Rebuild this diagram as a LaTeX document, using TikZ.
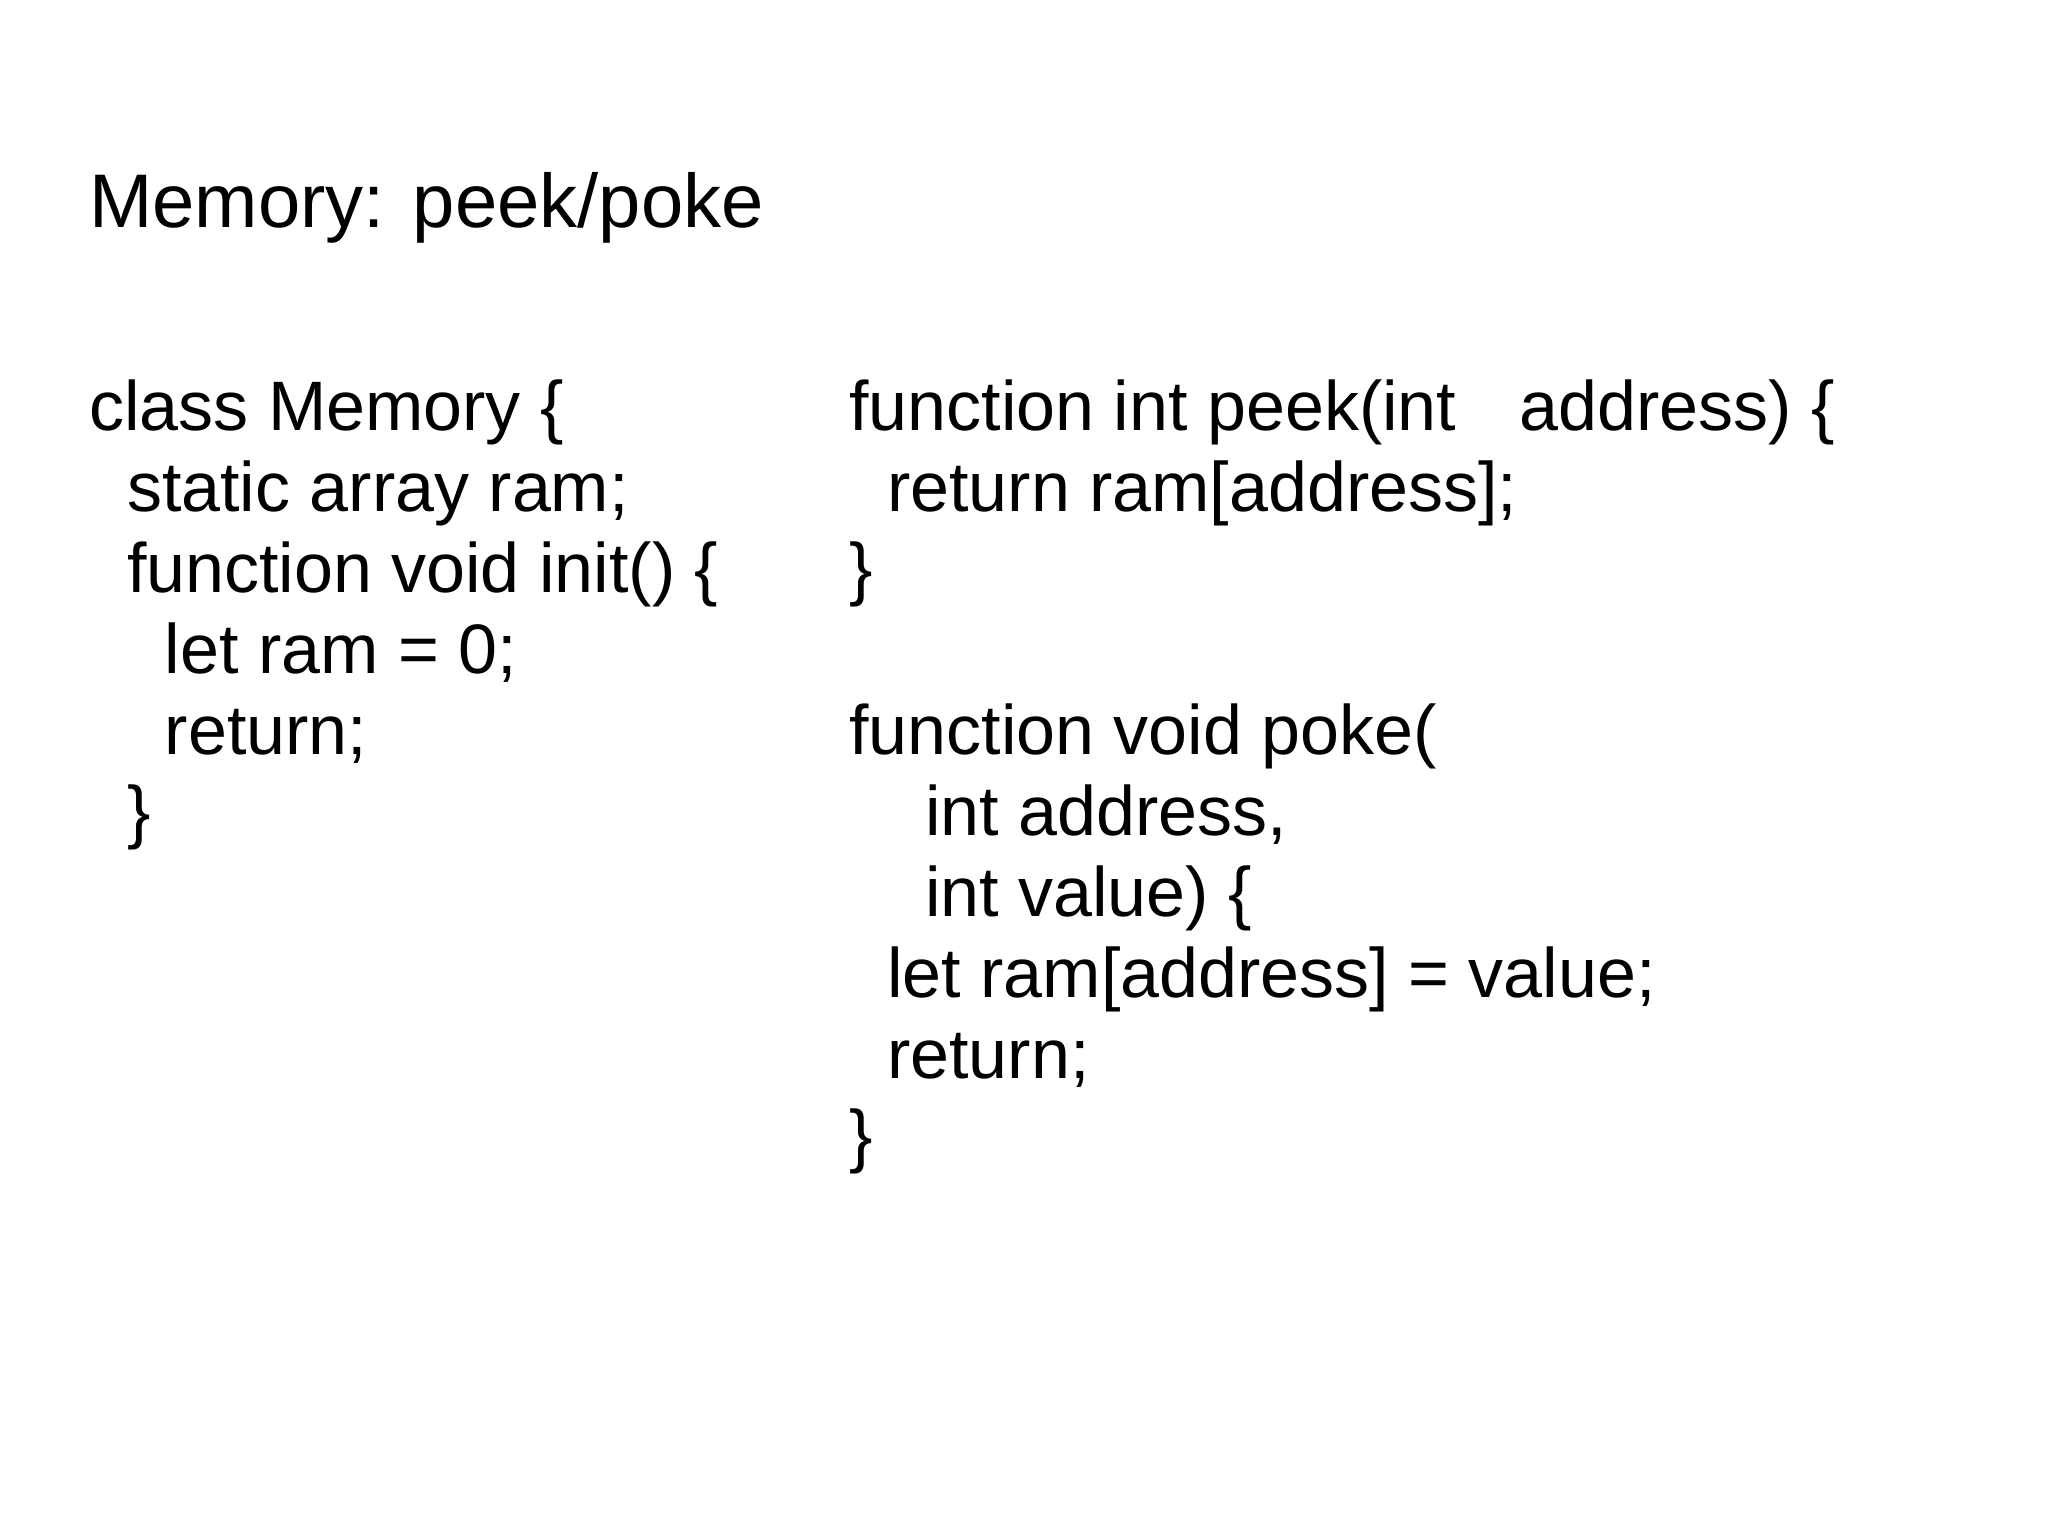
\documentclass[tikz,border=0pt]{standalone}
\usepackage{fontspec}
\setmainfont{Liberation Sans}
\begin{document}
\begin{tikzpicture}[x=1pt,y=1pt,
  code/.style={anchor=base west,inner sep=0pt,font=\fontsize{35}{40}\selectfont}]
\useasboundingbox[fill=white] (0,0) rectangle (1024,768);
\node[anchor=base west,inner sep=0pt,font=\fontsize{38}{44}\selectfont] (title) at (44.4,654) {Memory: peek/poke};
\def\L{44.4}\def\R{424.5}\def\I{18.9}
\node[code] (l1) at (\L,552.5) {class Memory \{};
\node[code] (l2) at (\L+\I,512) {static array ram;};
\node[code] (l3) at (\L+\I,471.5) {function void init() \{};
\node[code] (l4) at (\L+2*\I,431) {let ram = 0;};
\node[code] (l5) at (\L+2*\I,390.5) {return;};
\node[code] (l6) at (\L+\I,350) {\}};
\node[code] (r1) at (\R,552.5) {function int peek(int\hspace{0.9em}address) \{};
\node[code] (r2) at (\R+\I,512) {return ram[address];};
\node[code] (r3) at (\R,471.5) {\}};
\node[code] (r4) at (\R,390.5) {function void poke(};
\node[code] (r5) at (\R+2*\I,350) {int address,};
\node[code] (r6) at (\R+2*\I,309.5) {int value) \{};
\node[code] (r7) at (\R+\I,269) {let ram[address] = value;};
\node[code] (r8) at (\R+\I,228.5) {return;};
\node[code] (r9) at (\R,188) {\}};
\end{tikzpicture}
\end{document}
